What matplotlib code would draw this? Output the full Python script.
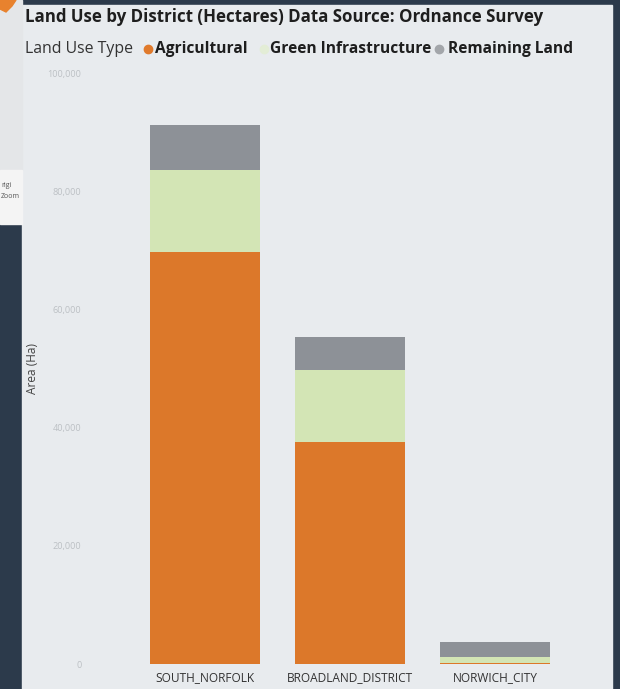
"""Stacked land-use bars by district, styled like the Power BI screenshot."""
import matplotlib

matplotlib.use("Agg")
import matplotlib.pyplot as plt
from matplotlib.lines import Line2D
from matplotlib.patches import Rectangle, Polygon

plt.rcParams["font.family"] = ["Open Sans", "DejaVu Sans"]

# data (hectares)
districts = ["SOUTH_NORFOLK", "BROADLAND_DISTRICT", "NORWICH_CITY"]
series = ["Agricultural", "Green Infrastructure", "Remaining Land"]
agricultural = [69700, 37600, 100]
green_infra = [13900, 12100, 1100]
remaining = [7600, 5600, 2500]
y_ticks = [0, 20000, 40000, 60000, 80000, 100000]

colors = ["#dc782a", "#d3e5b5", "#8d9197"]
dot_colors = ["#e07a2c", "#e3edd6", "#a3a6aa"]

W, H = 620, 689


def fx(x):
    return x / W


def fy(y):
    return 1 - y / H


fig = plt.figure(figsize=(W / 100, H / 100), dpi=100)
fig.patch.set_facecolor("#2c3a4b")

# report canvas pieces
fig.add_artist(Rectangle((fx(22), fy(689)), (612 - 22) / W, (689 - 5) / H,
                         transform=fig.transFigure, color="#e8ebee", zorder=0))
fig.add_artist(Rectangle((0, fy(170)), fx(22), 170 / H,
                         transform=fig.transFigure, color="#e4e6e8", zorder=0))
fig.add_artist(Rectangle((0, fy(224)), fx(22), 54 / H,
                         transform=fig.transFigure, color="#f4f4f4", zorder=0))
fig.text(fx(1), fy(185), "rigi", fontsize=5, color="#555", va="center")
fig.text(fx(1), fy(197), "Zoom", fontsize=5, color="#555", va="center")
fig.add_artist(Polygon([(fx(0), fy(0)), (fx(16), fy(0)), (fx(12), fy(6)),
                        (fx(6), fy(12)), (fx(0), fy(9))],
                       transform=fig.transFigure, color="#e8822e", zorder=2))

ax = fig.add_axes([fx(85), fy(664), (600 - 85) / W, (664 - 73) / H])
ax.set_facecolor("none")
x = list(range(len(districts)))
bw = 110 / 145
bottom = [0] * len(districts)
for vals, c in zip([agricultural, green_infra, remaining], colors):
    ax.bar(x, vals, width=bw, bottom=bottom, color=c, linewidth=0)
    bottom = [b + v for b, v in zip(bottom, vals)]

ax.set_xlim((85 - 205) / 145, (600 - 205) / 145)
ax.set_ylim(0, 100000)
ax.set_yticks(y_ticks)
ax.set_yticklabels([f"{v:,}" for v in y_ticks])
ax.set_xticks(x)
ax.set_xticklabels(districts)
ax.tick_params(axis="y", length=0, pad=2.5, labelsize=6.6, labelcolor="#bcc0c4")
ax.tick_params(axis="x", length=0, pad=5, labelsize=8.6, labelcolor="#333333")
for s in ax.spines.values():
    s.set_visible(False)

fig.text(fx(32), fy(368), "Area (Ha)", rotation=90, fontsize=8.6, color="#444444",
         ha="center", va="center")

fig.text(fx(25), fy(17), "Land Use by District (Hectares) Data Source: Ordnance Survey",
         fontsize=12.2, fontweight="bold", color="#1e1e1e", va="center")

fig.text(fx(25), fy(49), "Land Use Type", fontsize=11.4, color="#333333", va="center")
for name, dc, dx, tx in zip(series, dot_colors, [148, 264, 439], [155, 270, 448]):
    fig.add_artist(Line2D([fx(dx)], [fy(49)], marker="o", markersize=6,
                          color=dc, transform=fig.transFigure))
    fig.text(fx(tx), fy(49), name, fontsize=11.2, fontweight="bold",
             color="#1e1e1e", va="center")

fig.savefig("out.png", dpi=100, facecolor=fig.get_facecolor())
